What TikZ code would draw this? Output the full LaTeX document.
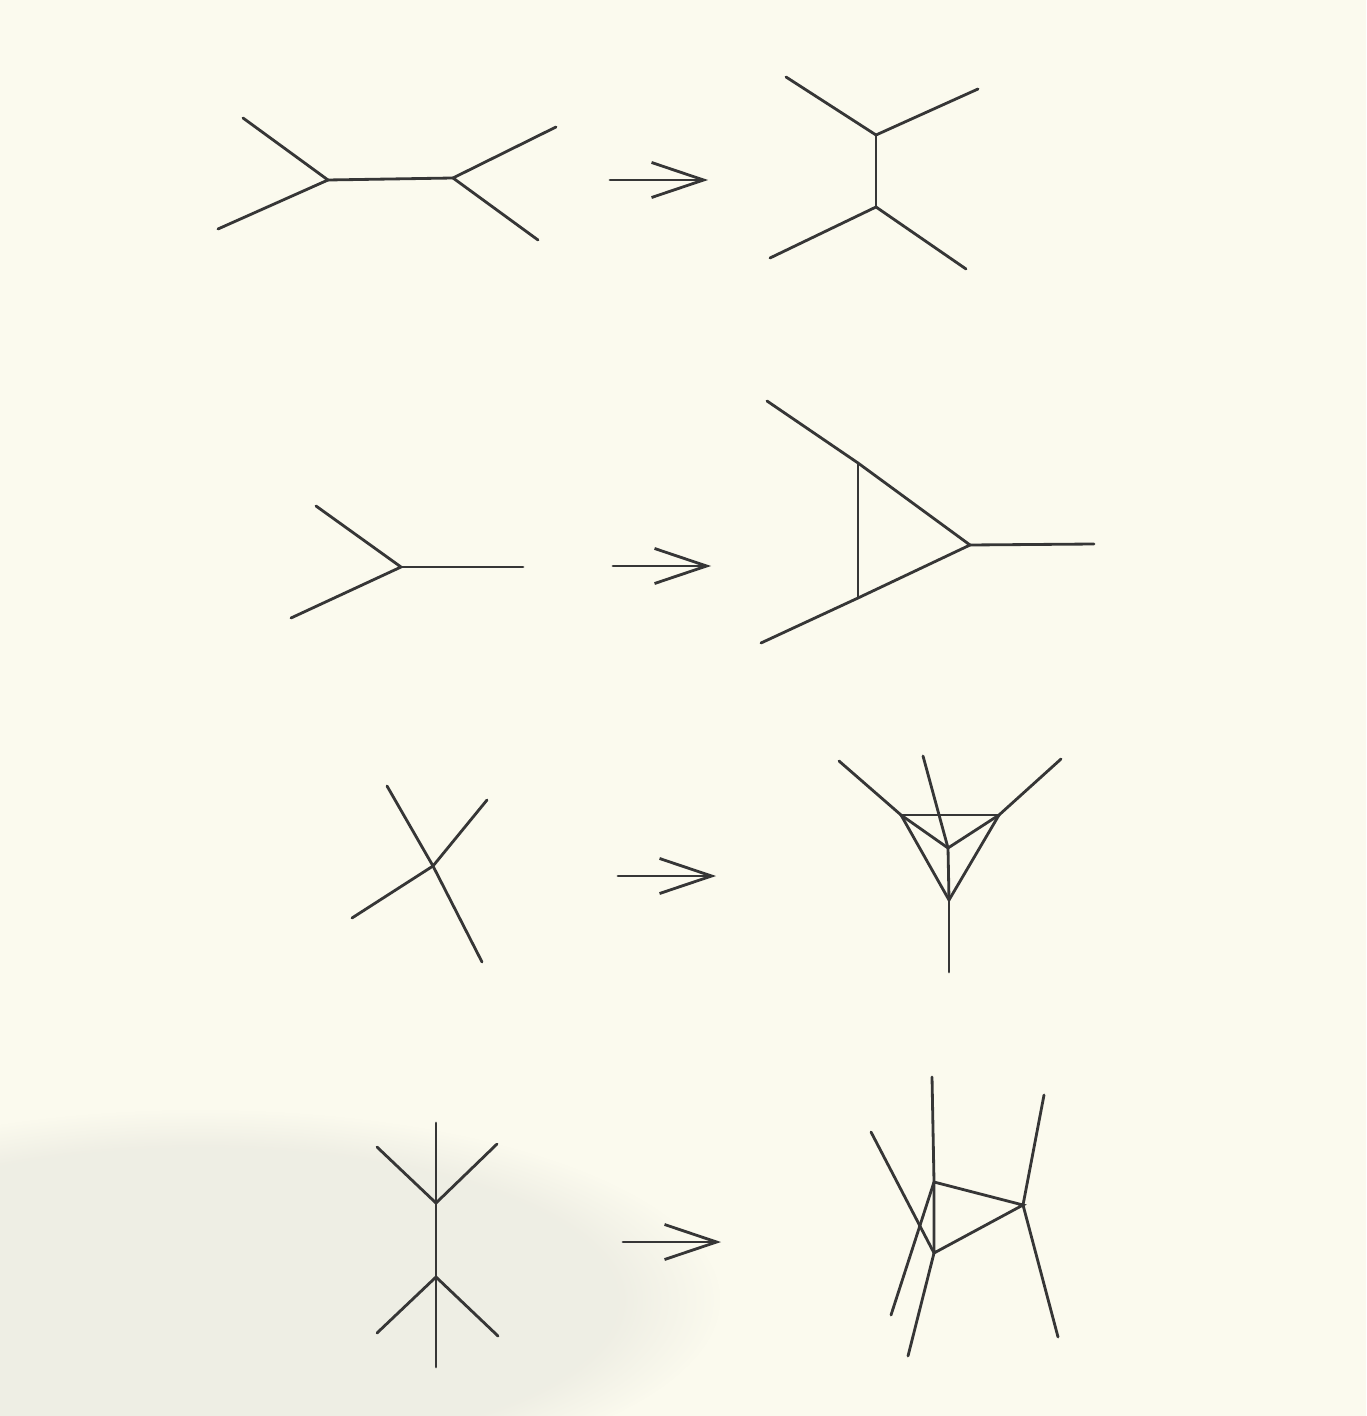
\documentclass[tikz,border=0pt]{standalone}
\usetikzlibrary{arrows.meta,fadings}
\definecolor{paper}{HTML}{FBFAEE}
\definecolor{ink}{HTML}{363636}
\definecolor{smudge}{HTML}{D8D8D2}
\begin{document}
\begin{tikzpicture}[x=0.01cm,y=-0.01cm,
  edge/.style={draw=ink,line width=0.8pt,line cap=round},
  mapsto/.style={draw=ink,line width=0.8pt,line cap=round,-{Straight Barb[length=5.2mm,width=3.5mm,line width=0.8pt]}}]
\useasboundingbox (0,0) rectangle (1366,1416);
\fill[paper] (0,0) rectangle (1366,1416);
\begin{scope}
\clip (0,0) rectangle (1366,1416);
\fill[smudge,path fading=circle with fuzzy edge 20 percent,opacity=0.35] (200,1300) ellipse [x radius=520,y radius=190];
\end{scope}
% ---------- Row 1 ----------
\coordinate (a1) at (328,180); \coordinate (a2) at (453,178);
\coordinate (a1u) at (243,118); \coordinate (a1d) at (218,229);
\coordinate (a2u) at (556,127); \coordinate (a2d) at (538,240);
\draw[edge] (a1u) -- (a1) -- (a1d); \draw[edge] (a1) -- (a2);
\draw[edge] (a2u) -- (a2) -- (a2d);
\coordinate (r1s) at (610,180); \coordinate (r1e) at (708,180);
\draw[mapsto] (r1s) -- (r1e);
\coordinate (b1) at (876,135); \coordinate (b2) at (876,207);
\coordinate (b1l) at (786,77); \coordinate (b1r) at (978,89);
\coordinate (b2l) at (770,258); \coordinate (b2r) at (966,269);
\draw[edge] (b1l) -- (b1) -- (b1r); \draw[edge] (b1) -- (b2);
\draw[edge] (b2l) -- (b2) -- (b2r);
% ---------- Row 2 ----------
\coordinate (c1) at (401,567);
\coordinate (c1u) at (316,506); \coordinate (c1d) at (291,618); \coordinate (c1r) at (523,567);
\draw[edge] (c1u) -- (c1) -- (c1d); \draw[edge] (c1) -- (c1r);
\coordinate (r2s) at (613,566); \coordinate (r2e) at (711,566);
\draw[mapsto] (r2s) -- (r2e);
\coordinate (d1) at (858,463); \coordinate (d2) at (858,598); \coordinate (d3) at (970,545);
\coordinate (d1o) at (767,401); \coordinate (d2o) at (761,643); \coordinate (d3o) at (1094,544);
\draw[edge] (d1o) -- (d1) -- (d3) -- (d2) -- (d2o);
\draw[edge] (d1) -- (d2); \draw[edge] (d3) -- (d3o);
% ---------- Row 3 ----------
\coordinate (e1) at (433,866);
\coordinate (e1a) at (387,786); \coordinate (e1b) at (482,962);
\coordinate (e1c) at (352,918); \coordinate (e1d) at (487,800);
\draw[edge] (e1a) -- (e1) -- (e1b); \draw[edge] (e1c) -- (e1) -- (e1d);
\coordinate (r3s) at (618,876); \coordinate (r3e) at (716,876);
\draw[mapsto] (r3s) -- (r3e);
\coordinate (fA) at (901,815); \coordinate (fB) at (999,815);
\coordinate (fC) at (948,848); \coordinate (fD) at (949,900);
\coordinate (fAo) at (839,761); \coordinate (fBo) at (1061,759);
\coordinate (fCo) at (923,756); \coordinate (fDo) at (949,972);
\draw[edge] (fAo) -- (fA); \draw[edge] (fBo) -- (fB);
\draw[edge] (fCo) -- (fC); \draw[edge] (fD) -- (fDo);
\draw[edge] (fA) -- (fB); \draw[edge] (fA) -- (fC) -- (fB);
\draw[edge] (fA) -- (fD) -- (fB); \draw[edge] (fC) -- (fD);
% ---------- Row 4 ----------
\coordinate (g1) at (436,1203); \coordinate (g2) at (436,1277);
\coordinate (gt) at (436,1123); \coordinate (gb) at (436,1367);
\coordinate (g1l) at (377,1147); \coordinate (g1r) at (497,1144);
\coordinate (g2l) at (377,1333); \coordinate (g2r) at (498,1336);
\draw[edge] (gt) -- (g1) -- (g2) -- (gb);
\draw[edge] (g1l) -- (g1) -- (g1r);
\draw[edge] (g2l) -- (g2) -- (g2r);
\coordinate (r4s) at (623,1242); \coordinate (r4e) at (721,1242);
\draw[mapsto] (r4s) -- (r4e);
\coordinate (hP) at (934,1182); \coordinate (hQ) at (934,1253); \coordinate (hR) at (1023,1205);
\coordinate (hPt) at (932,1077); \coordinate (hPb) at (891,1315);
\coordinate (hQt) at (871,1132); \coordinate (hQb) at (908,1356);
\coordinate (hRt) at (1044,1095); \coordinate (hRb) at (1058,1337);
\draw[edge] (hP) -- (hR) -- (hQ) -- (hP);
\draw[edge] (hPt) -- (hP) -- (hPb);
\draw[edge] (hQt) -- (hQ) -- (hQb);
\draw[edge] (hRt) -- (hR) -- (hRb);
\end{tikzpicture}
\end{document}
